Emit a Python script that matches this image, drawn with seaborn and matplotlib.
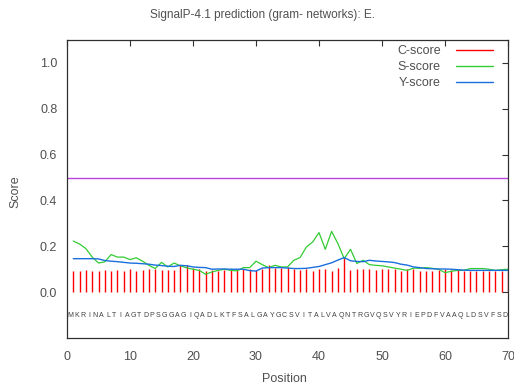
import numpy as np
import pandas as pd
import matplotlib
matplotlib.use("Agg")
import matplotlib.pyplot as plt
from matplotlib.lines import Line2D
import seaborn as sns

title = "SignalP-4.1 prediction (gram- networks): E."
sequence = "MKRINALTIAGTDPSGGAGIQADLKTFSALGAYGCSVITALVAQNTRGVQSVYRIEPDFVAAQLDSVFSD"
positions = list(range(1, 71))

c_score = [0.091, 0.091, 0.097, 0.092, 0.092, 0.098, 0.092, 0.097, 0.092, 0.099,
           0.092, 0.097, 0.099, 0.099, 0.097, 0.095, 0.098, 0.117, 0.120, 0.106,
           0.103, 0.091, 0.096, 0.091, 0.096, 0.099, 0.099, 0.103, 0.103, 0.096,
           0.103, 0.117, 0.106, 0.106, 0.110, 0.103, 0.096, 0.099, 0.091, 0.099,
           0.103, 0.091, 0.106, 0.153, 0.096, 0.099, 0.099, 0.103, 0.096, 0.099,
           0.103, 0.099, 0.091, 0.099, 0.099, 0.091, 0.091, 0.091, 0.096, 0.099,
           0.096, 0.096, 0.091, 0.091, 0.091, 0.091, 0.091, 0.091, 0.091, 0.091]

s_score = [0.223, 0.210, 0.190, 0.153, 0.127, 0.132, 0.164, 0.153, 0.153, 0.142,
           0.150, 0.135, 0.117, 0.103, 0.130, 0.110, 0.127, 0.115, 0.106, 0.100,
           0.095, 0.078, 0.088, 0.095, 0.100, 0.095, 0.093, 0.107, 0.107, 0.135,
           0.120, 0.107, 0.117, 0.110, 0.110, 0.139, 0.151, 0.197, 0.219, 0.260,
           0.187, 0.265, 0.212, 0.146, 0.187, 0.125, 0.139, 0.120, 0.117, 0.115,
           0.110, 0.105, 0.100, 0.095, 0.105, 0.104, 0.107, 0.104, 0.100, 0.085,
           0.091, 0.095, 0.095, 0.103, 0.103, 0.103, 0.100, 0.095, 0.098, 0.100]

y_score = [0.146, 0.146, 0.146, 0.146, 0.145, 0.138, 0.135, 0.133, 0.130, 0.127,
           0.126, 0.124, 0.122, 0.118, 0.116, 0.113, 0.112, 0.117, 0.115, 0.110,
           0.108, 0.107, 0.100, 0.101, 0.101, 0.100, 0.100, 0.100, 0.094, 0.092,
           0.105, 0.107, 0.107, 0.107, 0.105, 0.103, 0.103, 0.104, 0.108, 0.112,
           0.120, 0.128, 0.140, 0.151, 0.137, 0.134, 0.133, 0.139, 0.136, 0.134,
           0.132, 0.129, 0.122, 0.118, 0.110, 0.107, 0.103, 0.102, 0.101, 0.101,
           0.100, 0.098, 0.096, 0.095, 0.095, 0.095, 0.095, 0.095, 0.095, 0.095]

threshold = 0.5
x_ticks = [0, 10, 20, 30, 40, 50, 60, 70]
y_ticks = [0.0, 0.2, 0.4, 0.6, 0.8, 1.0]
legend_labels = ["C-score", "S-score", "Y-score"]

RED, GREEN, BLUE, PURPLE = "#ff0000", "#33cc33", "#1a6fdf", "#bb44dd"
TXT = "#505050"

sns.set_theme(style="white")
plt.rcParams['font.family'] = ['Liberation Sans', 'DejaVu Sans']

fig = plt.figure(figsize=(5.14, 3.87), dpi=100)
ax = fig.add_axes([67/514, 1-338/387, (508-67)/514, (338-40)/387])

df = pd.DataFrame({"Position": positions, "S": s_score, "Y": y_score, "C": c_score})

ax.vlines(df["Position"], 0, df["C"], color=RED, lw=1.0)
sns.lineplot(data=df, x="Position", y="S", ax=ax, color=GREEN, lw=0.9)
sns.lineplot(data=df, x="Position", y="Y", ax=ax, color=BLUE, lw=1.0)
ax.axhline(threshold, color=PURPLE, lw=1.0)

for i, ch in enumerate(sequence):
    ax.text(positions[i] - 0.5, -0.1, ch, ha="center", va="center",
            fontsize=5, color="#404040")

ax.set_xlim(0, 70)
ax.set_ylim(-0.2, 1.1)
ax.set_xticks(x_ticks)
ax.set_yticks(y_ticks)
ax.set_xticklabels([str(v) for v in x_ticks])
ax.set_yticklabels([f"{v:.1f}" for v in y_ticks])
ax.tick_params(direction="in", length=4, width=0.8, colors="#303030",
               top=True, right=True, labelsize=9, labelcolor=TXT)
ax.tick_params(axis="x", pad=9)
ax.tick_params(axis="y", pad=7)
for s in ax.spines.values():
    s.set_color("#303030")
    s.set_linewidth(0.9)

ax.set_xlabel("Position", fontsize=9, color=TXT)
ax.set_ylabel("Score", fontsize=9, color=TXT)
ax.xaxis.set_label_coords(0.494, -0.116)
ax.yaxis.set_label_coords(-0.104, 0.49)
fig.text(262/514, 1-15/387, title, ha="center", va="center",
         fontsize=8.5, color=TXT)

handles = [Line2D([], [], color=c, lw=1.0) for c in (RED, GREEN, BLUE)]
leg = ax.legend(handles, legend_labels, loc="upper right", frameon=False,
                fontsize=9, markerfirst=False, handlelength=3.0,
                labelspacing=0.32, borderaxespad=0, borderpad=0,
                handletextpad=1.2, bbox_to_anchor=(0.966, 0.983))
for t in leg.get_texts():
    t.set_color(TXT)

fig.savefig("out.png", dpi=100)
